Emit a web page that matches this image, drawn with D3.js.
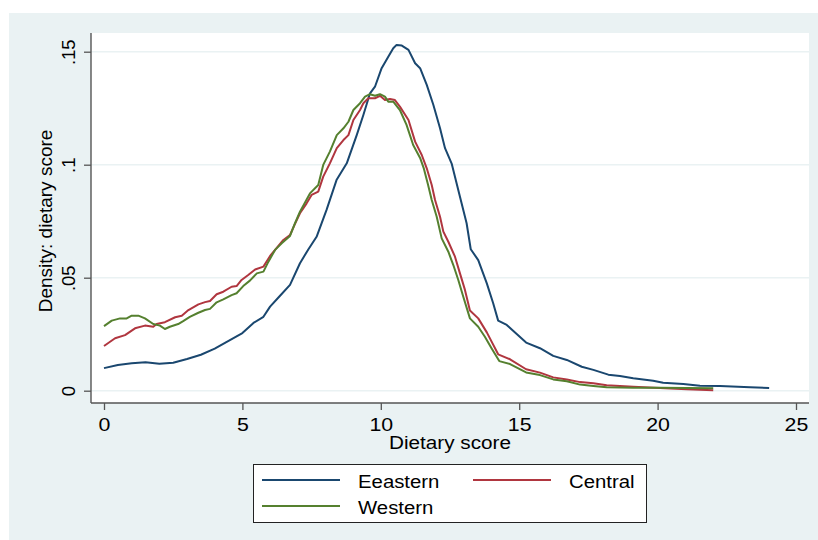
<!DOCTYPE html>
<html>
<head>
<meta charset="utf-8">
<script src="https://cdn.jsdelivr.net/npm/d3@7"></script>
<style>
  body { margin: 0; background: #fff; }
  svg { display: block; }
  text { font-family: "Liberation Sans", Arial, sans-serif; fill: #000; }
</style>
</head>
<body>
<svg id="chart" width="818" height="540"></svg>
<script>
// kernel density curves: [dietary score, density]
const eastern = [
  [0, 0.0100], [0.5, 0.0114], [1, 0.0121], [1.5, 0.0126], [2, 0.0119], [2.5, 0.0124],
  [3, 0.0140], [3.5, 0.0159], [4, 0.0186], [4.5, 0.0220], [5, 0.0255], [5.4, 0.0300],
  [5.76, 0.0327], [6.0, 0.0372], [6.36, 0.0420], [6.72, 0.0468], [7.08, 0.0564],
  [7.38, 0.0625], [7.68, 0.0681], [8.04, 0.0800], [8.4, 0.0932], [8.77, 0.1006],
  [9.13, 0.1131], [9.37, 0.1220], [9.61, 0.1316], [9.79, 0.1345], [10.03, 0.1427],
  [10.27, 0.1478], [10.45, 0.1515], [10.57, 0.1530], [10.76, 0.1527], [11.0, 0.1508],
  [11.24, 0.1449], [11.42, 0.1427], [11.66, 0.1353], [11.9, 0.1264], [12.14, 0.1161],
  [12.32, 0.1073], [12.56, 0.1005], [12.86, 0.0858], [13.1, 0.0741], [13.25, 0.0626],
  [13.52, 0.0578], [13.83, 0.0475], [14.06, 0.0387], [14.24, 0.0310], [14.55, 0.0291],
  [14.85, 0.0258], [15.25, 0.0213], [15.75, 0.0188], [16.23, 0.0154], [16.72, 0.0136],
  [17.26, 0.0106], [17.68, 0.0092], [18.22, 0.0071], [18.64, 0.0065], [19.12, 0.0055],
  [19.84, 0.0044], [20.2, 0.0035], [20.93, 0.0030], [21.53, 0.0022], [22.25, 0.0021],
  [23.34, 0.0015], [24.03, 0.0012]
];

const central = [
  [0, 0.0198], [0.4, 0.0232], [0.76, 0.0246], [1.12, 0.0276], [1.48, 0.0288], [1.78, 0.0283],
  [1.9, 0.0295], [2.2, 0.0303], [2.57, 0.0325], [2.81, 0.0332], [3.05, 0.0357], [3.41, 0.0382],
  [3.65, 0.0392], [3.83, 0.0397], [4.07, 0.0427], [4.31, 0.0438], [4.61, 0.0460], [4.79, 0.0463],
  [4.97, 0.0490], [5.21, 0.0512], [5.46, 0.0536], [5.76, 0.0549], [6.0, 0.0596], [6.18, 0.0623],
  [6.48, 0.0667], [6.72, 0.0689], [6.9, 0.0738], [7.08, 0.0785], [7.32, 0.0829], [7.5, 0.0866],
  [7.74, 0.0881], [7.92, 0.0947], [8.16, 0.1006], [8.41, 0.1073], [8.65, 0.1109], [8.83, 0.1131],
  [9.01, 0.1198], [9.25, 0.1242], [9.37, 0.1272], [9.55, 0.1294], [9.79, 0.1294], [9.97, 0.1305],
  [10.15, 0.1286], [10.33, 0.1291], [10.51, 0.1286], [10.69, 0.1257], [11.0, 0.1198],
  [11.24, 0.1102], [11.48, 0.1043], [11.66, 0.0984], [11.84, 0.0910], [11.96, 0.0844],
  [12.14, 0.0770], [12.26, 0.0704], [12.44, 0.0659], [12.68, 0.0593], [12.86, 0.0519],
  [13.04, 0.0446], [13.22, 0.0355], [13.52, 0.0320], [13.83, 0.0258], [14.24, 0.0161],
  [14.67, 0.0139], [15.25, 0.0095], [15.75, 0.0080], [16.23, 0.0059], [16.72, 0.0050],
  [17.2, 0.0038], [17.68, 0.0033], [18.16, 0.0024], [19.12, 0.0018], [20.09, 0.0012],
  [21.05, 0.0006], [22.01, 0.0002]
];

const western = [
  [0, 0.0286], [0.28, 0.0310], [0.58, 0.0320], [0.82, 0.0320], [1.0, 0.0332], [1.24, 0.0332],
  [1.48, 0.0320], [1.78, 0.0295], [2.02, 0.0288], [2.2, 0.0273], [2.38, 0.0283], [2.68, 0.0295],
  [2.86, 0.0308], [3.1, 0.0327], [3.41, 0.0345], [3.65, 0.0357], [3.83, 0.0362], [4.07, 0.0391],
  [4.31, 0.0404], [4.61, 0.0423], [4.79, 0.0431], [5.03, 0.0463], [5.27, 0.0487], [5.52, 0.0519],
  [5.76, 0.0527], [5.94, 0.0571], [6.18, 0.0623], [6.42, 0.0652], [6.72, 0.0685], [6.9, 0.0741],
  [7.08, 0.0792], [7.44, 0.0873], [7.74, 0.0910], [7.92, 0.0999], [8.16, 0.1058], [8.41, 0.1131],
  [8.65, 0.1161], [8.83, 0.1190], [9.01, 0.1242], [9.25, 0.1272], [9.43, 0.1301], [9.61, 0.1312],
  [9.79, 0.1305], [9.97, 0.1312], [10.15, 0.1301], [10.27, 0.1279], [10.45, 0.1279],
  [10.69, 0.1242], [10.93, 0.1176], [11.17, 0.1087], [11.42, 0.1030], [11.55, 0.0985],
  [11.7, 0.0915], [11.84, 0.0844], [12.02, 0.0770], [12.2, 0.0674], [12.44, 0.0615],
  [12.62, 0.0556], [12.8, 0.0490], [12.98, 0.0416], [13.22, 0.0320], [13.52, 0.0283],
  [13.76, 0.0239], [14.0, 0.0188], [14.28, 0.0131], [14.67, 0.0118], [15.25, 0.0081],
  [15.75, 0.0069], [16.23, 0.0050], [16.72, 0.0042], [17.2, 0.0027], [17.68, 0.0021],
  [18.16, 0.0015], [19.12, 0.0013], [20.09, 0.0013], [21.05, 0.0012], [22.01, 0.0011]
];

const seriesNames = ["Eeastern", "Central", "Western"];
const xTicks = [0, 5, 10, 15, 20, 25];
const yTicks = [0, 0.05, 0.1, 0.15];
const yTickLabels = ["0", ".05", ".1", ".15"];

// stata s2color-ish look
const colors = ["#1a476f", "#b0363f", "#55802f"];
const bgColor = "#eaf2f3";
const axisColor = "#555";

// plot region (the white box) and where the data range sits in it
const plot = { left: 91, top: 33, right: 809, bottom: 403 };

const svg = d3.select("#chart");

svg.append("rect")
  .attr("x", 9).attr("y", 13)
  .attr("width", 818 - 9).attr("height", 540 - 13)
  .attr("fill", bgColor);

svg.append("rect")
  .attr("x", plot.left).attr("y", plot.top)
  .attr("width", plot.right - plot.left).attr("height", plot.bottom - plot.top)
  .attr("fill", "#fff");

const x = d3.scaleLinear().domain([0, 25]).range([104, 796]);
const y = d3.scaleLinear().domain([0, 0.15]).range([390.7, 51.7]);

// gridlines
svg.append("g")
  .selectAll("line")
  .data(yTicks)
  .enter()
  .append("line")
  .attr("x1", plot.left).attr("x2", plot.right)
  .attr("y1", (d) => y(d)).attr("y2", (d) => y(d))
  .attr("stroke", bgColor)
  .attr("stroke-width", 1.6);

// x axis
const xAxis = svg.append("g")
  .attr("transform", "translate(0," + plot.bottom + ")")
  .call(d3.axisBottom(x).tickValues(xTicks).tickSize(7).tickSizeOuter(0).tickFormat(d3.format("d")));
xAxis.select(".domain").remove();
xAxis.selectAll(".tick line").attr("stroke", axisColor).attr("stroke-width", 1.3);
xAxis.selectAll(".tick text")
  .attr("y", 28).attr("dy", null)
  .attr("transform", "scale(1.22,1)")
  .style("font-size", "17.5px")
  .attr("fill", "#000");
xAxis.append("line")
  .attr("x1", plot.left).attr("x2", plot.right)
  .attr("stroke", axisColor).attr("stroke-width", 1.4);

// y axis
const yAxis = svg.append("g")
  .attr("transform", "translate(" + plot.left + ",0)")
  .call(d3.axisLeft(y).tickValues(yTicks).tickSize(7).tickSizeOuter(0)
    .tickFormat((d, i) => yTickLabels[i]));
yAxis.select(".domain").remove();
yAxis.selectAll(".tick line").attr("stroke", axisColor).attr("stroke-width", 1.3);
yAxis.selectAll(".tick text")
  .attr("x", null).attr("dy", null)
  .attr("transform", "translate(-16,0) rotate(-90)")
  .attr("text-anchor", "middle")
  .style("font-size", "18.5px")
  .attr("fill", "#000");
yAxis.append("line")
  .attr("y1", plot.top).attr("y2", plot.bottom)
  .attr("stroke", axisColor).attr("stroke-width", 1.4);

// axis titles
svg.append("text")
  .attr("transform", "translate(52,221) rotate(-90)")
  .attr("text-anchor", "middle")
  .style("font-size", "19px")
  .text("Density: dietary score");

svg.append("text")
  .attr("transform", "translate(450,449) scale(1.12,1)")
  .attr("text-anchor", "middle")
  .style("font-size", "18.5px")
  .text("Dietary score");

// curves
const line = d3.line()
  .x((d) => x(d[0]))
  .y((d) => y(d[1]));

svg.append("g")
  .selectAll("path")
  .data([eastern, central, western])
  .enter()
  .append("path")
  .attr("d", line)
  .attr("fill", "none")
  .attr("stroke", (d, i) => colors[i])
  .attr("stroke-width", 2)
  .attr("stroke-linejoin", "round");

// legend, 2 columns
svg.append("rect")
  .attr("x", 253.5).attr("y", 464.5)
  .attr("width", 393).attr("height", 58)
  .attr("fill", "#fff")
  .attr("stroke", "#222")
  .attr("stroke-width", 1);

const legendPos = [[262, 480], [473, 480], [262, 506]];
const legend = svg.append("g")
  .selectAll("g")
  .data(seriesNames)
  .enter()
  .append("g")
  .attr("transform", (d, i) => "translate(" + legendPos[i][0] + "," + legendPos[i][1] + ")");

legend.append("line")
  .attr("x1", 0).attr("x2", 78)
  .attr("stroke", (d, i) => colors[i])
  .attr("stroke-width", 1.8);

legend.append("text")
  .attr("transform", "translate(96,7.5) scale(1.1,1)")
  .style("font-size", "18.5px")
  .text((d) => d);
</script>
</body>
</html>
